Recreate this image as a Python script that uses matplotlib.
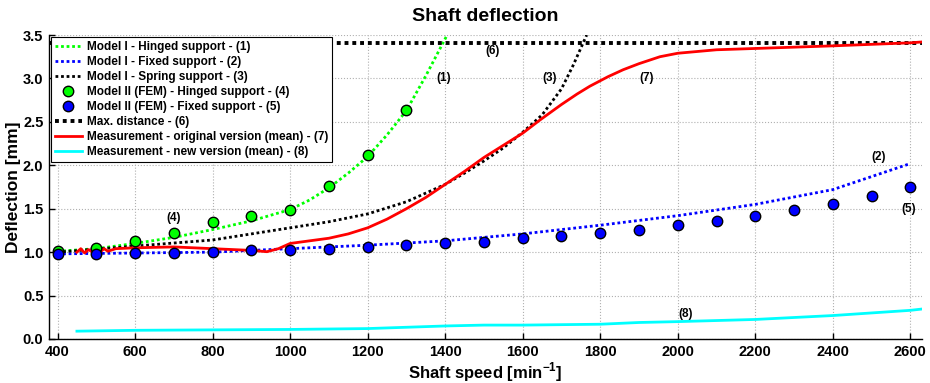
import numpy as np
import matplotlib
matplotlib.use("Agg")
import matplotlib.pyplot as plt

plt.rcParams['font.family'] = ['Liberation Sans', 'DejaVu Sans']
plt.rcParams['font.weight'] = 'bold'
plt.rcParams['mathtext.fontset'] = 'custom'
plt.rcParams['mathtext.rm'] = 'Liberation Sans:bold'
plt.rcParams['mathtext.bf'] = 'Liberation Sans:bold'

# Model I - hinged support (1)
hinged_x = [400, 500, 600, 700, 800, 900, 1000, 1050, 1100, 1150, 1200, 1250, 1300, 1350, 1405]
hinged_y = [1.01, 1.04, 1.10, 1.17, 1.26, 1.36, 1.49, 1.60, 1.74, 1.91, 2.10, 2.35, 2.63, 3.03, 3.5]

# Model I - fixed support (2)
fixed_x = [400, 600, 800, 1000, 1200, 1400, 1600, 1800, 2000, 2200, 2400, 2600]
fixed_y = [0.98, 0.99, 1.00, 1.04, 1.08, 1.13, 1.21, 1.31, 1.42, 1.55, 1.72, 2.02]

# Model I - spring support (3)
spring_x = [400, 600, 800, 1000, 1100, 1200, 1300, 1400, 1450, 1500, 1550, 1600, 1650,
            1700, 1730, 1765]
spring_y = [1.00, 1.07, 1.14, 1.28, 1.35, 1.44, 1.58, 1.78, 1.91, 2.05, 2.20, 2.38, 2.58,
            2.88, 3.15, 3.5]

# Model II (FEM) points (4), (5)
fem_h_x = [400, 500, 600, 700, 800, 900, 1000, 1100, 1200, 1300]
fem_h_y = [1.01, 1.05, 1.13, 1.22, 1.35, 1.415, 1.49, 1.76, 2.12, 2.64]
fem_f_x = list(range(400, 2700, 100))
fem_f_y = [0.98, 0.98, 0.99, 0.99, 1.00, 1.02, 1.03, 1.04, 1.06, 1.08, 1.10, 1.12,
           1.16, 1.19, 1.22, 1.26, 1.31, 1.36, 1.415, 1.48, 1.56, 1.645, 1.745]

# Max. distance (6)
max_dist = 3.41

# Measurement - original version (7)
orig_x = [450, 460, 470, 480, 490, 500, 510, 520, 530, 550, 600, 700, 800, 900, 940,
          970, 1000, 1050, 1100, 1150, 1200, 1250, 1300, 1350, 1400, 1450, 1500, 1550,
          1600, 1644, 1700, 1740, 1773, 1820, 1859, 1900, 1954, 2000, 2050, 2100, 2200,
          2400, 2600, 2630]
orig_y = [1.00, 1.04, 0.99, 1.03, 1.00, 1.02, 1.00, 1.04, 1.01, 1.04, 1.05, 1.06, 1.04,
          1.02, 1.005, 1.04, 1.10, 1.13, 1.16, 1.21, 1.28, 1.38, 1.50, 1.63, 1.78, 1.93,
          2.09, 2.23, 2.37, 2.52, 2.70, 2.82, 2.91, 3.02, 3.10, 3.17, 3.25, 3.29, 3.31,
          3.33, 3.345, 3.375, 3.41, 3.42]

# Measurement - new version (8)
new_x = [450, 600, 800, 1000, 1200, 1400, 1500, 1600, 1800, 1900, 2000, 2200, 2400, 2600, 2630]
new_y = [0.09, 0.10, 0.105, 0.11, 0.12, 0.15, 0.16, 0.16, 0.17, 0.19, 0.20, 0.225, 0.27, 0.33, 0.345]

labels = ['(1)', '(6)', '(3)', '(7)', '(2)', '(5)', '(4)', '(8)']
label_x = [1397, 1521, 1670, 1920, 2519, 2596, 700, 2021]
label_y = [3.01, 3.32, 3.01, 3.00, 2.09, 1.50, 1.39, 0.29]

fig = plt.figure(figsize=(9.3, 3.83), dpi=100)
ax = fig.add_axes([0.0527, 0.1149, 0.9387, 0.7937])

dot = (0, (1, 1))
ax.plot(hinged_x, hinged_y, color='#00ff00', lw=2, ls=dot, label='Model I - Hinged support - (1)', zorder=3)
ax.plot(fixed_x, fixed_y, color='#0000ff', lw=2, ls=dot, label='Model I - Fixed support - (2)', zorder=3)
ax.plot(spring_x, spring_y, color='black', lw=2, ls=dot, label='Model I - Spring support - (3)', zorder=3)
ax.plot(fem_h_x, fem_h_y, 'o', color='#00ff00', mec='black', mew=1, ms=7.5,
        label='Model II (FEM) - Hinged support - (4)', zorder=5)
ax.plot(fem_f_x, fem_f_y, 'o', color='#0000ff', mec='black', mew=1, ms=7.5,
        label='Model II (FEM) - Fixed support - (5)', zorder=5)
ax.plot([378, 2630], [max_dist, max_dist], color='black', lw=2.8, ls=dot,
        label='Max. distance - (6)', zorder=3)
ax.plot(orig_x, orig_y, color='#ff0000', lw=2, label='Measurement - original version (mean) - (7)', zorder=4)
ax.plot(new_x, new_y, color='#00ffff', lw=2, label='Measurement - new version (mean) - (8)', zorder=4)

for t, x, y in zip(labels, label_x, label_y):
    ax.text(x, y, t, fontsize=8.5, fontweight='bold', ha='center', va='center')

ax.set_xlim(378, 2630)
ax.set_ylim(0, 3.5)
ax.set_xticks(range(400, 2700, 200))
ax.set_yticks(np.arange(0, 3.51, 0.5))
ax.set_yticklabels([f'{v:.1f}' for v in np.arange(0, 3.51, 0.5)])
ax.tick_params(direction='in', length=4, width=1, labelsize=10.5, pad=4)
for lab in ax.get_xticklabels() + ax.get_yticklabels():
    lab.set_fontweight('bold')
ax.grid(True, color='#b0b0b0', ls=':', lw=0.8)
ax.set_axisbelow(True)
for s in ['top', 'right']:
    ax.spines[s].set_visible(False)
ax.spines['left'].set_linewidth(1)
ax.spines['bottom'].set_linewidth(1)

ax.set_title('Shaft deflection', fontsize=14, fontweight='bold', pad=10)
ax.set_xlabel(r'Shaft speed [min$^{-1}$]', fontsize=12, fontweight='bold', labelpad=1)
ax.set_ylabel('Deflection [mm]', fontsize=12.5, fontweight='bold', labelpad=1)

leg = ax.legend(loc='upper left', fontsize=8.5, frameon=True, fancybox=False,
                edgecolor='black', framealpha=1, borderaxespad=0.2, borderpad=0.3,
                labelspacing=0.26, handlelength=2.3, handletextpad=0.4, numpoints=1)
leg.get_frame().set_linewidth(0.8)
leg.set_zorder(10)
for t in leg.get_texts():
    t.set_fontweight('bold')

fig.savefig('out.png', dpi=100)
